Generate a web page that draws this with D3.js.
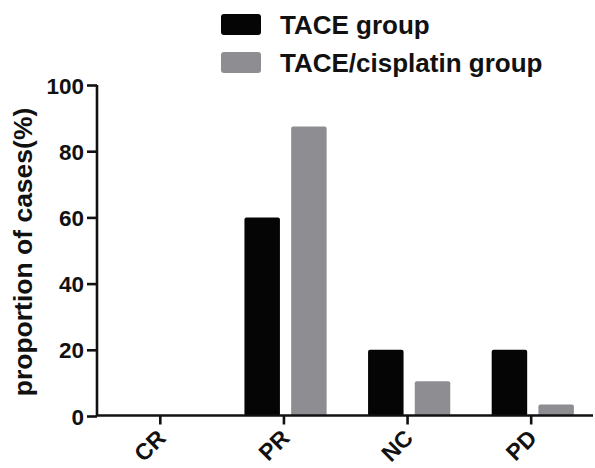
<!DOCTYPE html>
<html>
<head>
<meta charset="utf-8">
<script src="https://cdn.jsdelivr.net/npm/d3@7"></script>
<style>
  body { margin: 0; background: #fff; }
  svg { display: block; font-family: "Liberation Sans", Arial, sans-serif; font-weight: bold; }
</style>
</head>
<body>
<div id="chart"></div>
<script>
// data
const categories = ["CR", "PR", "NC", "PD"];
const seriesNames = ["TACE group", "TACE/cisplatin group"];
const taceValues = [0, 60, 20, 20];
const cisplatinValues = [0, 87.5, 10.5, 3.5];
const yTicks = [0, 20, 40, 60, 80, 100];

const colors = {
  tace: "#050505",
  cisplatin: "#8e8d92"
};

const width = 595, height = 468;
const svg = d3.select("#chart").append("svg")
  .attr("width", width)
  .attr("height", height);

// plot area
const x0 = 98.5, x1 = 593;
const yBottom = 416, yTop = 85;

const x = d3.scaleBand().domain(categories).range([x0, x1]);
const xInner = d3.scaleBand().domain(seriesNames).range([-39.5, 42.7]).paddingInner(0.24);
const y = d3.scaleLinear().domain([0, 100]).range([yBottom, yTop]);

const rows = categories.map((c, i) => ({
  cat: c,
  vals: [
    { name: seriesNames[0], v: taceValues[i], color: colors.tace },
    { name: seriesNames[1], v: cisplatinValues[i], color: colors.cisplatin }
  ]
}));

// bars
const groups = svg.selectAll(".grp").data(rows).enter().append("g")
  .attr("class", "grp")
  .attr("transform", d => `translate(${x(d.cat) + x.bandwidth() / 2},0)`);

groups.selectAll("rect").data(d => d.vals.filter(v => v.v > 0)).enter().append("rect")
  .attr("x", d => xInner(d.name))
  .attr("width", xInner.bandwidth())
  .attr("y", d => y(d.v))
  .attr("height", d => yBottom - y(d.v))
  .attr("rx", 2)
  .style("fill", d => d.color);

// y axis
const yAxis = svg.append("g")
  .attr("transform", `translate(${x0 - 1.5},0)`)
  .call(d3.axisLeft(y).tickValues(yTicks).tickSize(10).tickPadding(3));
yAxis.select(".domain").attr("d", `M-0,${yTop}V${yBottom}`);

// x axis
const xAxis = svg.append("g")
  .attr("transform", `translate(0,${yBottom - 0.5})`)
  .call(d3.axisBottom(x).tickSize(9).tickSizeOuter(0));
xAxis.select(".domain").attr("d", `M${x0 - 1.5},0H${x1}`);

svg.selectAll(".domain, .tick line")
  .attr("stroke", "#111")
  .attr("stroke-width", 2.6);

yAxis.selectAll("text")
  .style("font-size", "22.5px")
  .style("font-family", "Liberation Sans, Arial, sans-serif")
  .style("font-weight", "bold")
  .attr("fill", "#111")
  .attr("dy", "0.36em");

// category labels, slanted; kept a little higher so they stay inside the frame
xAxis.selectAll("text")
  .style("font-size", "23px")
  .style("font-family", "Liberation Sans, Arial, sans-serif")
  .style("font-weight", "bold")
  .attr("fill", "#111")
  .attr("text-anchor", "end")
  .attr("dy", 0)
  .attr("y", 0)
  .attr("transform", "translate(7,24) rotate(-45)");

// y axis title
svg.append("text")
  .attr("transform", "translate(32,252) rotate(-90)")
  .attr("text-anchor", "middle")
  .style("font-size", "26.5px")
  .attr("fill", "#111")
  .text("proportion of cases(%)");

// legend
const legend = svg.selectAll(".leg").data(seriesNames).enter().append("g")
  .attr("class", "leg")
  .attr("transform", (d, i) => `translate(221,${14 + i * 38})`);

legend.append("rect")
  .attr("width", 40)
  .attr("height", 21)
  .attr("rx", 3)
  .style("fill", (d, i) => i === 0 ? colors.tace : colors.cisplatin);

legend.append("text")
  .attr("x", 59)
  .attr("y", 19.5)
  .style("font-size", "26px")
  .attr("fill", "#111")
  .text(d => d);
</script>
</body>
</html>
